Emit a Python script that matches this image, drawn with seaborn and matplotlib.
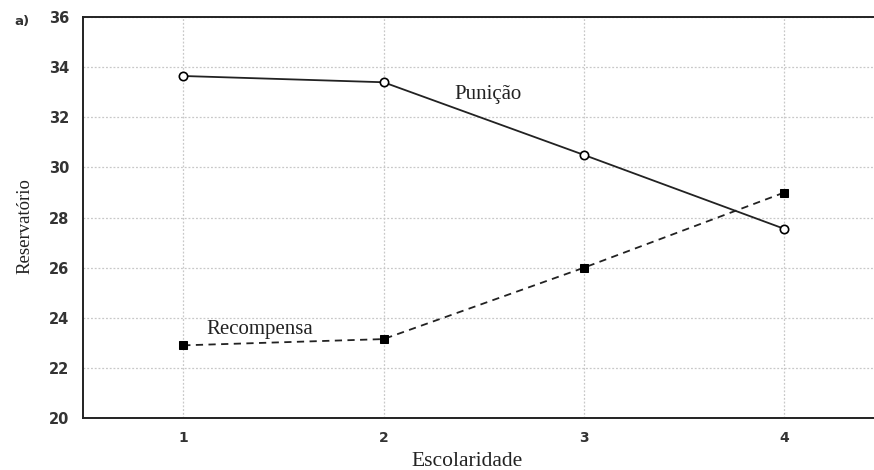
import seaborn as sns
import matplotlib.pyplot as plt
import pandas as pd

escolaridade = [1, 2, 3, 4]
punicao = [33.65, 33.4, 30.5, 27.55]
recompensa = [22.9, 23.15, 26.0, 29.0]
yticks = [20, 22, 24, 26, 28, 30, 32, 34, 36]

df = pd.DataFrame({"Escolaridade": escolaridade,
                   "Punição": punicao,
                   "Recompensa": recompensa})

sns.set_style("white")
fig = plt.figure(figsize=(8.74, 4.70), dpi=100)
ax = fig.add_axes([0.095, 0.1106, 0.917, 0.853])

sns.lineplot(data=df, x="Escolaridade", y="Punição", ax=ax, color="#222222",
             linewidth=1.3, marker="o", markersize=6, markerfacecolor="white",
             markeredgecolor="black", markeredgewidth=1.2)
sns.lineplot(data=df, x="Escolaridade", y="Recompensa", ax=ax, color="#222222",
             linewidth=1.3, linestyle=(0, (4, 3)), marker="s", markersize=6,
             markerfacecolor="black", markeredgecolor="black")

ax.set_xlim(0.5, 4.5)
ax.set_ylim(20, 36)
ax.set_xticks(escolaridade)
ax.set_yticks(yticks)
ax.set_xticklabels([str(v) for v in escolaridade], fontsize=10, fontweight="bold",
                   color="#333333", family="DejaVu Sans")
ax.set_yticklabels([str(v) for v in yticks], fontsize=10.5, fontweight="bold",
                   color="#333333", family="DejaVu Sans")
ax.tick_params(direction="in", length=3, width=1.5, color="black")
ax.tick_params(axis="x", pad=9)
ax.tick_params(axis="y", pad=10)
ax.grid(True, linestyle=(0, (1.5, 1.5)), color="#c8c8c8", linewidth=0.9)

for side in ["left", "bottom", "top", "right"]:
    ax.spines[side].set_color("#222222")
    ax.spines[side].set_linewidth(1.4)

ax.set_xlabel("Escolaridade", fontsize=15.5, family="Liberation Serif", color="#222222")
ax.set_ylabel("Reservatório", fontsize=13.5, family="Liberation Serif", color="#222222")
ax.xaxis.set_label_coords(0.479, -0.085)
ax.yaxis.set_label_coords(-0.062, 0.48)

ax.text(2.52, 32.9, "Punição", fontsize=15, family="Liberation Serif",
        ha="center", va="center", color="#222222")
ax.text(1.38, 23.55, "Recompensa", fontsize=15, family="Liberation Serif",
        ha="center", va="center", color="#222222")
fig.text(0.025, 0.955, "a)", fontsize=9.5, fontweight="bold", family="DejaVu Sans",
         color="#333333", ha="center", va="center")

fig.savefig("out.png", dpi=100)
